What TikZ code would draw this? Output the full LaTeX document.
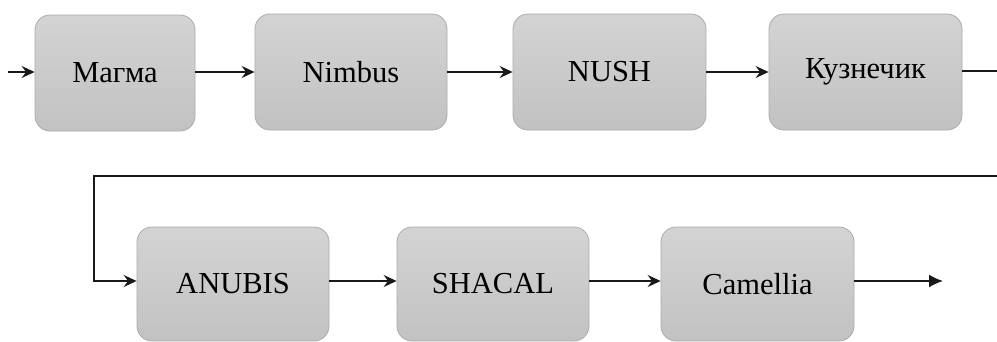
\documentclass[tikz,border=0pt]{standalone}
\usepackage{fontspec}
\setmainfont{Liberation Serif}
\newfontfamily\blkfont{Liberation Serif}
\usetikzlibrary{arrows.meta}
\begin{document}
\begin{tikzpicture}[x=1pt,y=-1pt,
  blk/.style={draw=black!33, line width=0.8pt, rounded corners=15pt,
    top color=black!17, bottom color=black!24, minimum height=116pt,
    inner sep=0pt, font=\blkfont\fontsize{30.5}{36}\selectfont},
  conn/.style={line width=1.5pt, draw=black!90},
  arr/.style={conn, -{Stealth[length=13pt,width=12pt,inset=4.5pt]}},
  arrend/.style={conn, -{Latex[length=14pt,width=13pt]}}]
\useasboundingbox (0,0) rectangle (997,341);
% row 1
\node[blk, minimum width=160pt] (magma) at (115,73) {Магма};
\node[blk, minimum width=192pt] (nimbus) at (351,72) {Nimbus};
\node[blk, minimum width=193pt] (nush) at (609.5,72) {NUSH};
\node[blk, minimum width=193pt] (kuz) at (865.5,72) {Кузнечик};
% row 2
\node[blk, minimum width=192pt, minimum height=114pt] (anubis) at (233,284) {ANUBIS};
\node[blk, minimum width=192pt, minimum height=114pt] (shacal) at (493,284) {SHACAL};
\node[blk, minimum width=193pt, minimum height=114pt] (camellia) at (757.5,284) {Camellia};
% coordinates
\coordinate (in) at (8,72);
\coordinate (r1) at (1010,71);
\coordinate (r2) at (1010,176);
\coordinate (l1) at (94,176);
\coordinate (out) at (943,281);
% connectors
\draw[arr] (in) -- (magma.west |- in);
\draw[arr] (magma.east |- in) -- (nimbus.west);
\draw[arr] (nimbus.east) -- (nush.west);
\draw[arr] (nush.east) -- (kuz.west);
\draw[arr] (kuz.east |- r1) -- (r1) -- (r2) -- (l1) |- ([yshift=3pt]anubis.west);
\draw[arr] ([yshift=3pt]anubis.east) -- ([yshift=3pt]shacal.west);
\draw[arr] ([yshift=3pt]shacal.east) -- ([yshift=3pt]camellia.west);
\draw[arrend] ([yshift=3pt]camellia.east) -- (out);
\end{tikzpicture}
\end{document}
